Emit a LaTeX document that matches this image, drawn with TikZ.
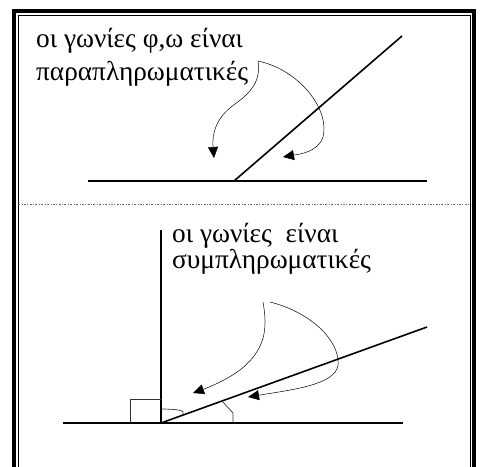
\documentclass[tikz,border=0pt]{standalone}
\usepackage{fontspec}
\setmainfont{Liberation Serif}
\usetikzlibrary{arrows.meta}
\tikzset{
  mainline/.style={line width=1.6pt},
  markline/.style={line width=0.7pt, black!80},
  curvearrow/.style={line width=0.5pt, -{Triangle[length=11pt,width=10pt]}},
  label/.style={anchor=base west, inner sep=0pt, font=\fontsize{27.3}{32}\selectfont}
}
\begin{document}
\begin{tikzpicture}[x=1pt,y=-1pt]
\useasboundingbox (0,0) rectangle (486,466);
\clip (0,0) rectangle (486,466);
% frame
\draw[line width=4pt] (14,480) -- (14,11.3) -- (474,11.3) -- (474,480);
\draw[line width=0.8pt] (18,480) -- (18,15) -- (470,15) -- (470,480);
% separator
\draw[line width=0.5pt, black!60, dash pattern=on 2pt off 1.5pt on 0.8pt off 1.5pt] (18,204) -- (470,204);

% ---------- top half ----------
\coordinate (b1l) at (88,181);
\coordinate (b1r) at (427,181);
\coordinate (v1) at (234,181);
\coordinate (d1) at (402,36);
\draw[mainline] (b1l) -- (b1r);
\draw[mainline] (v1) -- (d1);
\node[label] (t1a) at (36,47) {οι γωνίες φ,ω είναι};
\node[label] (t1b) at (36,80) {παραπληρωματικές};
\coordinate (s1) at (258,61);
\coordinate (e1) at (214,158);
\coordinate (e2) at (283,157);
\draw[curvearrow] (s1) .. controls (261,80) and (252,92) .. (235,104)
   .. controls (215,118) and (212,135) .. (e1);
\draw[curvearrow] (s1) .. controls (300,70) and (330,110) .. (323,137)
   .. controls (318,152) and (300,154) .. (e2);

% ---------- bottom half ----------
\coordinate (b2l) at (63,423);
\coordinate (b2r) at (403,423);
\coordinate (v2) at (161,423);
\coordinate (vt) at (161,230);
\coordinate (d2) at (427,327);
\draw[mainline] (b2l) -- (b2r);
\draw[mainline] (v2) -- (vt);
\draw[mainline] (v2) -- (d2);
\draw[markline] (130,423) -- (130,399) -- (161,399);
\draw[markline] (161,409) .. controls (172,409) and (183,410) .. (183,412) -- (183,415);
\draw[markline] (222,401) -- (233,413) -- (233,423);
\node[label] (t2a) at (172,242) {οι γωνίες\ \ είναι};
\node[label] (t2b) at (172,268) {συμπληρωματικές};
\coordinate (s3) at (263,302);
\coordinate (s4) at (270,302);
\coordinate (e3) at (193,393);
\coordinate (e4) at (248,397);
\draw[curvearrow] (s3) .. controls (268,330) and (265,350) .. (240,370)
   .. controls (225,381) and (207,388) .. (e3);
\draw[curvearrow] (s4) .. controls (310,312) and (340,340) .. (338,365)
   .. controls (336,385) and (290,390) .. (e4);
\end{tikzpicture}
\end{document}
